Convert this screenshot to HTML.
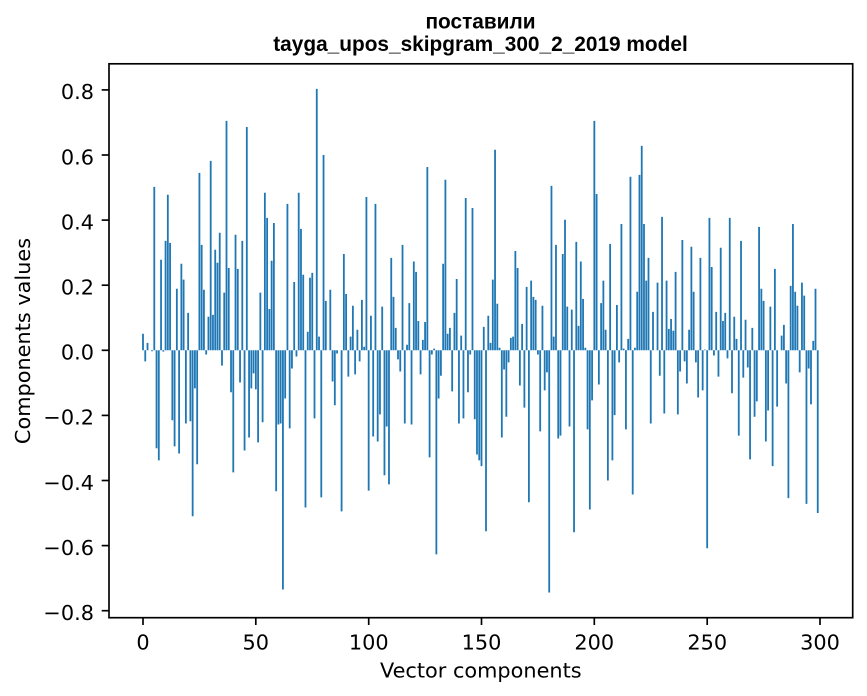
<!DOCTYPE html>
<html>
<head>
<meta charset="utf-8">
<style>
html,body{margin:0;padding:0;background:#fff;}
svg{display:block;}
.t{font-family:"DejaVu Sans","Liberation Sans",sans-serif;font-size:20.83px;fill:#000;}
.ti{font-family:"Liberation Sans","DejaVu Sans",sans-serif;font-size:20.83px;font-weight:bold;fill:#000;}
</style>
</head>
<body>
<svg width="867" height="696" viewBox="0 0 867 696" xmlns="http://www.w3.org/2000/svg">
<rect x="0" y="0" width="867" height="696" fill="#fff"/>
<g transform="translate(143,350.3) scale(2.2567,-325.5)">
<path fill="#1f77b4" d="M-1.4 0m1 0h.8v.051h-.8zm1 0h.8v-.034h-.8zm1 0h.8v.023h-.8zm1 0h.8v0h-.8zm1 0h.8v-.003h-.8zm1 0h.8v.502h-.8zm1 0h.8v-.301h-.8zm1 0h.8v-.338h-.8zm1 0h.8v.278h-.8zm1 0h.8v-.004h-.8zm1 0h.8v.336h-.8zm1 0h.8v.478h-.8zm1 0h.8v.33h-.8zm1 0h.8v-.215h-.8zm1 0h.8v-.295h-.8zm1 0h.8v.189h-.8zm1 0h.8v-.317h-.8zm1 0h.8v.266h-.8zm1 0h.8v.217h-.8zm1 0h.8v-.225h-.8zm1 0h.8v.115h-.8zm1 0h.8v-.218h-.8zm1 0h.8v-.51h-.8zm1 0h.8v-.117h-.8zm1 0h.8v-.35h-.8zm1 0h.8v.545h-.8zm1 0h.8v.324h-.8zm1 0h.8v.186h-.8zm1 0h.8v-.013h-.8zm1 0h.8v.103h-.8zm1 0h.8v.582h-.8zm1 0h.8v.109h-.8zm1 0h.8v.309h-.8zm1 0h.8v.269h-.8zm1 0h.8v.361h-.8zm1 0h.8v-.047h-.8zm1 0h.8v.177h-.8zm1 0h.8v.705h-.8zm1 0h.8v.253h-.8zm1 0h.8v-.129h-.8zm1 0h.8v-.375h-.8zm1 0h.8v.355h-.8zm1 0h.8v.25h-.8zm1 0h.8v-.099h-.8zm1 0h.8v.336h-.8zm1 0h.8v-.308h-.8zm1 0h.8v.686h-.8zm1 0h.8v-.268h-.8zm1 0h.8v-.117h-.8zm1 0h.8v-.071h-.8zm1 0h.8v-.12h-.8zm1 0h.8v-.283h-.8zm1 0h.8v.177h-.8zm1 0h.8v-.221h-.8zm1 0h.8v.484h-.8zm1 0h.8v.407h-.8zm1 0h.8v.127h-.8zm1 0h.8v.275h-.8zm1 0h.8v.391h-.8zm1 0h.8v-.433h-.8zm1 0h.8v-.228h-.8zm1 0h.8v-.225h-.8zm1 0h.8v-.735h-.8zm1 0h.8v-.148h-.8zm1 0h.8v.45h-.8zm1 0h.8v-.24h-.8zm1 0h.8v-.056h-.8zm1 0h.8v.21h-.8zm1 0h.8v-.019h-.8zm1 0h.8v.484h-.8zm1 0h.8v.373h-.8zm1 0h.8v.232h-.8zm1 0h.8v-.483h-.8zm1 0h.8v.057h-.8zm1 0h.8v.223h-.8zm1 0h.8v.238h-.8zm1 0h.8v-.209h-.8zm1 0h.8v.803h-.8zm1 0h.8v.042h-.8zm1 0h.8v-.452h-.8zm1 0h.8v.6h-.8zm1 0h.8v.152h-.8zm1 0h.8v0h-.8zm1 0h.8v.186h-.8zm1 0h.8v-.096h-.8zm1 0h.8v-.169h-.8zm1 0h.8v-.01h-.8zm1 0h.8v0h-.8zm1 0h.8v-.495h-.8zm1 0h.8v.296h-.8zm1 0h.8v.173h-.8zm1 0h.8v-.081h-.8zm1 0h.8v.042h-.8zm1 0h.8v.137h-.8zm1 0h.8v-.074h-.8zm1 0h.8v.063h-.8zm1 0h.8v-.034h-.8zm1 0h.8v.155h-.8zm1 0h.8v.011h-.8zm1 0h.8v.471h-.8zm1 0h.8v-.431h-.8zm1 0h.8v.106h-.8zm1 0h.8v-.265h-.8zm1 0h.8v.45h-.8zm1 0h.8v-.28h-.8zm1 0h.8v-.197h-.8zm1 0h.8v.134h-.8zm1 0h.8v-.384h-.8zm1 0h.8v-.234h-.8zm1 0h.8v-.412h-.8zm1 0h.8v.284h-.8zm1 0h.8v.164h-.8zm1 0h.8v.069h-.8zm1 0h.8v-.028h-.8zm1 0h.8v-.065h-.8zm1 0h.8v.324h-.8zm1 0h.8v-.225h-.8zm1 0h.8v.017h-.8zm1 0h.8v.145h-.8zm1 0h.8v-.228h-.8zm1 0h.8v.273h-.8zm1 0h.8v.241h-.8zm1 0h.8v.09h-.8zm1 0h.8v-.074h-.8zm1 0h.8v.032h-.8zm1 0h.8v.087h-.8zm1 0h.8v.563h-.8zm1 0h.8v-.329h-.8zm1 0h.8v-.013h-.8zm1 0h.8v.005h-.8zm1 0h.8v-.627h-.8zm1 0h.8v-.148h-.8zm1 0h.8v-.078h-.8zm1 0h.8v.266h-.8zm1 0h.8v.524h-.8zm1 0h.8v.051h-.8zm1 0h.8v.069h-.8zm1 0h.8v-.126h-.8zm1 0h.8v.115h-.8zm1 0h.8v.219h-.8zm1 0h.8v-.225h-.8zm1 0h.8v.045h-.8zm1 0h.8v-.209h-.8zm1 0h.8v.468h-.8zm1 0h.8v-.129h-.8zm1 0h.8v-.013h-.8zm1 0h.8v.437h-.8zm1 0h.8v-.212h-.8zm1 0h.8v-.32h-.8zm1 0h.8v-.338h-.8zm1 0h.8v-.356h-.8zm1 0h.8v.072h-.8zm1 0h.8v-.556h-.8zm1 0h.8v.106h-.8zm1 0h.8v.023h-.8zm1 0h.8v.217h-.8zm1 0h.8v.616h-.8zm1 0h.8v.143h-.8zm1 0h.8v.008h-.8zm1 0h.8v-.268h-.8zm1 0h.8v-.059h-.8zm1 0h.8v-.204h-.8zm1 0h.8v-.037h-.8zm1 0h.8v.038h-.8zm1 0h.8v.042h-.8zm1 0h.8v.305h-.8zm1 0h.8v.253h-.8zm1 0h.8v-.108h-.8zm1 0h.8v.081h-.8zm1 0h.8v-.176h-.8zm1 0h.8v.195h-.8zm1 0h.8v-.467h-.8zm1 0h.8v.214h-.8zm1 0h.8v.164h-.8zm1 0h.8v.155h-.8zm1 0h.8v-.013h-.8zm1 0h.8v-.249h-.8zm1 0h.8v.137h-.8zm1 0h.8v-.123h-.8zm1 0h.8v-.068h-.8zm1 0h.8v-.744h-.8zm1 0h.8v.505h-.8zm1 0h.8v.042h-.8zm1 0h.8v.324h-.8zm1 0h.8v-.271h-.8zm1 0h.8v-.262h-.8zm1 0h.8v.296h-.8zm1 0h.8v.401h-.8zm1 0h.8v.134h-.8zm1 0h.8v-.234h-.8zm1 0h.8v.125h-.8zm1 0h.8v-.559h-.8zm1 0h.8v.333h-.8zm1 0h.8v.075h-.8zm1 0h.8v.273h-.8zm1 0h.8v.158h-.8zm1 0h.8v.008h-.8zm1 0h.8v-.243h-.8zm1 0h.8v-.489h-.8zm1 0h.8v-.154h-.8zm1 0h.8v.705h-.8zm1 0h.8v.48h-.8zm1 0h.8v-.105h-.8zm1 0h.8v.145h-.8zm1 0h.8v.214h-.8zm1 0h.8v.063h-.8zm1 0h.8v-.4h-.8zm1 0h.8v.327h-.8zm1 0h.8v-.338h-.8zm1 0h.8v-.199h-.8zm1 0h.8v.139h-.8zm1 0h.8v-.037h-.8zm1 0h.8v.388h-.8zm1 0h.8v.005h-.8zm1 0h.8v-.243h-.8zm1 0h.8v.035h-.8zm1 0h.8v.533h-.8zm1 0h.8v-.443h-.8zm1 0h.8v.008h-.8zm1 0h.8v.18h-.8zm1 0h.8v.539h-.8zm1 0h.8v.628h-.8zm1 0h.8v.388h-.8zm1 0h.8v.214h-.8zm1 0h.8v.284h-.8zm1 0h.8v-.225h-.8zm1 0h.8v.118h-.8zm1 0h.8v0h-.8zm1 0h.8v.208h-.8zm1 0h.8v-.078h-.8zm1 0h.8v.41h-.8zm1 0h.8v-.194h-.8zm1 0h.8v.214h-.8zm1 0h.8v.066h-.8zm1 0h.8v.096h-.8zm1 0h.8v.06h-.8zm1 0h.8v.241h-.8zm1 0h.8v-.197h-.8zm1 0h.8v-.065h-.8zm1 0h.8v.339h-.8zm1 0h.8v-.034h-.8zm1 0h.8v-.102h-.8zm1 0h.8v.063h-.8zm1 0h.8v.318h-.8zm1 0h.8v.18h-.8zm1 0h.8v-.037h-.8zm1 0h.8v-.145h-.8zm1 0h.8v.284h-.8zm1 0h.8v-.123h-.8zm1 0h.8v.002h-.8zm1 0h.8v-.608h-.8zm1 0h.8v.407h-.8zm1 0h.8v.256h-.8zm1 0h.8v-.016h-.8zm1 0h.8v.118h-.8zm1 0h.8v-.081h-.8zm1 0h.8v.315h-.8zm1 0h.8v.09h-.8zm1 0h.8v.115h-.8zm1 0h.8v-.025h-.8zm1 0h.8v.407h-.8zm1 0h.8v-.132h-.8zm1 0h.8v.103h-.8zm1 0h.8v.035h-.8zm1 0h.8v-.262h-.8zm1 0h.8v.336h-.8zm1 0h.8v-.084h-.8zm1 0h.8v.094h-.8zm1 0h.8v-.053h-.8zm1 0h.8v-.335h-.8zm1 0h.8v.069h-.8zm1 0h.8v-.204h-.8zm1 0h.8v-.157h-.8zm1 0h.8v.379h-.8zm1 0h.8v.189h-.8zm1 0h.8v.152h-.8zm1 0h.8v-.28h-.8zm1 0h.8v-.185h-.8zm1 0h.8v.134h-.8zm1 0h.8v-.356h-.8zm1 0h.8v.25h-.8zm1 0h.8v-.173h-.8zm1 0h.8v0h-.8zm1 0h.8v.045h-.8zm1 0h.8v.078h-.8zm1 0h.8v-.102h-.8zm1 0h.8v-.454h-.8zm1 0h.8v.198h-.8zm1 0h.8v.388h-.8zm1 0h.8v.18h-.8zm1 0h.8v.137h-.8zm1 0h.8v-.068h-.8zm1 0h.8v.208h-.8zm1 0h.8v.168h-.8zm1 0h.8v-.472h-.8zm1 0h.8v-.056h-.8zm1 0h.8v-.166h-.8zm1 0h.8v.029h-.8zm1 0h.8v.189h-.8zm1 0h.8v-.5h-.8z"/>
</g>
<!-- axes frame -->
<rect x="109" y="63.8" width="743.7" height="553.9" fill="none" stroke="#000" stroke-width="1.67"/>
<!-- x ticks -->
<g stroke="#000" stroke-width="1.67">
<line x1="143" y1="617.7" x2="143" y2="625"/>
<line x1="255.8" y1="617.7" x2="255.8" y2="625"/>
<line x1="368.7" y1="617.7" x2="368.7" y2="625"/>
<line x1="481.5" y1="617.7" x2="481.5" y2="625"/>
<line x1="594.3" y1="617.7" x2="594.3" y2="625"/>
<line x1="707.2" y1="617.7" x2="707.2" y2="625"/>
<line x1="820" y1="617.7" x2="820" y2="625"/>
</g>
<g class="t" text-anchor="middle">
<text x="143" y="649.5">0</text>
<text x="255.8" y="649.5">50</text>
<text x="368.7" y="649.5">100</text>
<text x="481.5" y="649.5">150</text>
<text x="594.3" y="649.5">200</text>
<text x="707.2" y="649.5">250</text>
<text x="820" y="649.5">300</text>
</g>
<!-- y ticks -->
<g stroke="#000" stroke-width="1.67">
<line x1="101.7" y1="89.9" x2="109" y2="89.9"/>
<line x1="101.7" y1="155" x2="109" y2="155"/>
<line x1="101.7" y1="220.1" x2="109" y2="220.1"/>
<line x1="101.7" y1="285.2" x2="109" y2="285.2"/>
<line x1="101.7" y1="350.3" x2="109" y2="350.3"/>
<line x1="101.7" y1="415.4" x2="109" y2="415.4"/>
<line x1="101.7" y1="480.5" x2="109" y2="480.5"/>
<line x1="101.7" y1="545.6" x2="109" y2="545.6"/>
<line x1="101.7" y1="610.7" x2="109" y2="610.7"/>
</g>
<g class="t" text-anchor="end">
<text x="94" y="99.2">0.8</text>
<text x="94" y="164.3">0.6</text>
<text x="94" y="229.4">0.4</text>
<text x="94" y="294.5">0.2</text>
<text x="94" y="359.6">0.0</text>
<text x="94" y="424.7">−0.2</text>
<text x="94" y="489.8">−0.4</text>
<text x="94" y="554.9">−0.6</text>
<text x="94" y="620">−0.8</text>
</g>
<!-- axis labels -->
<text class="t" x="480.8" y="677.3" text-anchor="middle">Vector components</text>
<text class="t" transform="translate(30.2,341) rotate(-90)" text-anchor="middle">Components values</text>
<!-- title -->
<text class="ti" x="480.5" y="28.3" text-anchor="middle">поставили</text>
<text class="ti" x="480.5" y="50.8" text-anchor="middle">tayga_upos_skipgram_300_2_2019 model</text>
</svg>
</body>
</html>
